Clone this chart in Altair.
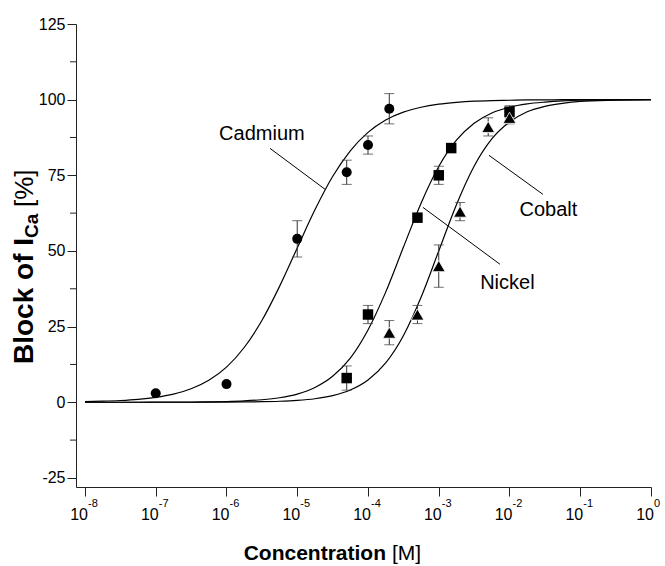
import altair as alt
import pandas as pd

# ---------------- data ----------------
# fitted curves, sampled at log10(concentration)
curve_log_conc = [-8, -7.75, -7.5, -7.25, -7, -6.75, -6.5, -6.25, -6, -5.75, -5.5, -5.25,
                  -5, -4.75, -4.5, -4.25, -4, -3.75, -3.5, -3.25, -3, -2.75, -2.5, -2.25,
                  -2, -1.75, -1.5, -1.25, -1, -0.5, 0]
cadmium_curve = [0.21, 0.35, 0.58, 0.97, 1.63, 2.7, 4.45, 7.25, 11.6, 18.1, 27.0, 38.3,
                 51.0, 63.6, 74.6, 83.1, 89.2, 93.3, 95.9, 97.5, 98.5, 99.1, 99.5, 99.7,
                 99.8, 99.9, 99.9, 100, 100, 100, 100]
nickel_curve = [0.0, 0.0, 0.01, 0.01, 0.02, 0.04, 0.07, 0.14, 0.25, 0.45, 0.83, 1.5,
                2.7, 4.9, 8.6, 14.6, 23.9, 36.4, 51.2, 65.8, 77.9, 86.6, 92.2, 95.6,
                97.5, 98.6, 99.2, 99.6, 99.8, 99.9, 100]
cobalt_curve = [0.0, 0.0, 0.0, 0.0, 0.0, 0.01, 0.01, 0.03, 0.05, 0.1, 0.18, 0.34,
                0.63, 1.17, 2.19, 4.05, 7.36, 13.0, 22.0, 34.7, 50.0, 65.3, 78.0, 87.0,
                92.6, 96.0, 97.8, 98.8, 99.4, 99.8, 100]

# measured points (mean, error)
cd_conc = [1e-7, 1e-6, 1e-5, 5e-5, 1e-4, 2e-4]
cd_block = [3, 6, 54, 76, 85, 97]
cd_err = [0, 0, 6, 4, 3, 5]

ni_conc = [5e-5, 1e-4, 5e-4, 1e-3, 1.5e-3, 1e-2]
ni_block = [8, 29, 61, 75, 84, 96]
ni_err = [4, 3, 0, 3, 0, 2]

co_conc = [2e-4, 5e-4, 1e-3, 2e-3, 5e-3, 1e-2]
co_block = [23, 29, 45, 63, 91, 94]
co_err = [4, 3, 7, 3, 3, 2]

# axis ticks
x_exponents = [-8, -7, -6, -5, -4, -3, -2, -1, 0]
y_major = [-25, 0, 25, 50, 75, 100, 125]
y_minor = [-12.5, 12.5, 37.5, 62.5, 87.5, 112.5]

# annotation labels and their leader lines (data coordinates)
label_names = ["Cadmium", "Nickel", "Cobalt"]
label_conc = [10 ** -5.50, 10 ** -2.03, 10 ** -1.45]
label_block = [88.6, 39.3, 63.4]
leader_conc1 = [10 ** -5.385, 10 ** -3.223, 10 ** -2.29]
leader_block1 = [83.9, 64.4, 81.6]
leader_conc2 = [10 ** -4.608, 10 ** -2.134, 10 ** -1.527]
leader_block2 = [70.4, 45.6, 68.7]

FONT = "Liberation Sans"

# ---------------- tables ----------------
curves = pd.concat([
    pd.DataFrame({"series": name, "conc": [10 ** v for v in curve_log_conc], "block": vals})
    for name, vals in [("Cadmium", cadmium_curve), ("Nickel", nickel_curve), ("Cobalt", cobalt_curve)]
])

pts = pd.concat([
    pd.DataFrame({"series": "Cadmium", "conc": cd_conc, "block": cd_block, "err": cd_err}),
    pd.DataFrame({"series": "Nickel", "conc": ni_conc, "block": ni_block, "err": ni_err}),
    pd.DataFrame({"series": "Cobalt", "conc": co_conc, "block": co_block, "err": co_err}),
])
pts["lo"] = pts["block"] - pts["err"]
pts["hi"] = pts["block"] + pts["err"]
errs = pts[pts["err"] > 0]

xdf = pd.DataFrame({"conc": [10.0 ** e for e in x_exponents],
                    "exp": [str(e) for e in x_exponents],
                    "base": ["10"] * len(x_exponents)})
minor_df = pd.DataFrame({"block": y_minor})
labels_df = pd.DataFrame({"name": label_names, "conc": label_conc, "block": label_block})
leaders_df = pd.DataFrame({"c1": leader_conc1, "b1": leader_block1, "c2": leader_conc2, "b2": leader_block2})

xscale = alt.Scale(type="log", domain=[10 ** -8.127, 1])
yscale = alt.Scale(domain=[-28, 125], nice=False, zero=False)

xaxis = alt.Axis(values=[10.0 ** e for e in x_exponents], labels=False, tickSize=9,
                 title=None, grid=False, domainColor="#222", tickColor="#222")
yaxis = alt.Axis(values=y_major, tickSize=9, labelPadding=2, labelFontSize=16, labelFont=FONT,
                 labelColor="black", title=None, grid=False, domainColor="#222", tickColor="#222",
                 labelFlush=False,
                 labelExpr="datum.value < 0 ? '-' + abs(datum.value) : '' + datum.value")

X = alt.X("conc:Q", scale=xscale, axis=xaxis)
Y = alt.Y("block:Q", scale=yscale, axis=yaxis)

lines = alt.Chart(curves).mark_line(color="black", strokeWidth=1.2, interpolate="monotone").encode(
    x=X, y=Y, detail="series:N")

err_rule = alt.Chart(errs).mark_rule(color="#333", strokeWidth=1).encode(
    x=alt.X("conc:Q", scale=xscale), y=alt.Y("lo:Q", scale=yscale), y2="hi:Q")
cap_lo = alt.Chart(errs).mark_tick(color="#333", orient="horizontal", size=10, thickness=1).encode(
    x=alt.X("conc:Q", scale=xscale), y=alt.Y("lo:Q", scale=yscale))
cap_hi = alt.Chart(errs).mark_tick(color="#333", orient="horizontal", size=10, thickness=1).encode(
    x=alt.X("conc:Q", scale=xscale), y=alt.Y("hi:Q", scale=yscale))

circles = alt.Chart(pts[pts.series == "Cadmium"]).mark_point(
    shape="circle", filled=True, color="black", size=100, opacity=1).encode(
    x=alt.X("conc:Q", scale=xscale), y=alt.Y("block:Q", scale=yscale))
squares = alt.Chart(pts[pts.series == "Nickel"]).mark_point(
    shape="square", filled=True, color="black", size=110, opacity=1).encode(
    x=alt.X("conc:Q", scale=xscale), y=alt.Y("block:Q", scale=yscale))
triangles = alt.Chart(pts[pts.series == "Cobalt"]).mark_point(
    shape="triangle-up", filled=True, fill="black", stroke="white", strokeWidth=0.8,
    size=165, opacity=1).encode(
    x=alt.X("conc:Q", scale=xscale), y=alt.Y("block:Q", scale=yscale))

minor = alt.Chart(minor_df).mark_rule(color="#222", strokeWidth=1).encode(
    y=alt.Y("block:Q", scale=yscale), x=alt.value(-6), x2=alt.value(0))

bases = alt.Chart(xdf).mark_text(align="right", baseline="alphabetic", fontSize=16, font=FONT,
                                 color="black", dx=3).encode(
    x=alt.X("conc:Q", scale=xscale), y=alt.value(496), text="base:N")
exps = alt.Chart(xdf).mark_text(align="left", baseline="top", fontSize=11, font=FONT,
                                color="black", dx=3).encode(
    x=alt.X("conc:Q", scale=xscale), y=alt.value(474), text="exp:N")

lab = alt.Chart(labels_df).mark_text(fontSize=20, font=FONT, color="black", baseline="middle").encode(
    x=alt.X("conc:Q", scale=xscale), y=alt.Y("block:Q", scale=yscale), text="name:N")
leaders = alt.Chart(leaders_df).mark_rule(color="black", strokeWidth=1).encode(
    x=alt.X("c1:Q", scale=xscale), y=alt.Y("b1:Q", scale=yscale), x2="c2:Q", y2="b2:Q")

# axis titles (mixed bold / regular / subscript)
t1 = pd.DataFrame({"t": ["Concentration"]})
t2 = pd.DataFrame({"t": ["[M]"]})
xt1 = alt.Chart(t1).mark_text(fontSize=21, fontWeight="bold", font=FONT, align="right",
                              baseline="alphabetic", color="black").encode(
    x=alt.value(310), y=alt.value(536), text="t:N")
xt2 = alt.Chart(t2).mark_text(fontSize=21, font=FONT, align="left",
                              baseline="alphabetic", color="black").encode(
    x=alt.value(316), y=alt.value(536), text="t:N")

y1 = pd.DataFrame({"t": ["Block of I"]})
y2 = pd.DataFrame({"t": ["Ca"]})
y3 = pd.DataFrame({"t": ["[%]"]})
yt1 = alt.Chart(y1).mark_text(fontSize=28, fontWeight="bold", font=FONT, align="left",
                              baseline="alphabetic", angle=270, color="black").encode(
    x=alt.value(-43), y=alt.value(340), text="t:N")
yt2 = alt.Chart(y2).mark_text(fontSize=19, fontWeight="bold", font=FONT, align="left",
                              baseline="alphabetic", angle=270, color="black").encode(
    x=alt.value(-38), y=alt.value(214), text="t:N")
yt3 = alt.Chart(y3).mark_text(fontSize=26, font=FONT, align="left",
                              baseline="alphabetic", angle=270, color="black").encode(
    x=alt.value(-43), y=alt.value(183), text="t:N")

chart = alt.layer(
    lines, err_rule, cap_lo, cap_hi, circles, squares, triangles, minor, bases, exps,
    lab, leaders, xt1, xt2, yt1, yt2, yt3
).properties(
    width=575, height=463,
    padding={"left": 76, "top": 24, "right": 14, "bottom": 79},
    autosize=alt.AutoSizeParams(type="none"),
    background="white",
).configure_view(stroke=None)

chart.save("out.html", embed_options={"renderer": "svg", "actions": False})
